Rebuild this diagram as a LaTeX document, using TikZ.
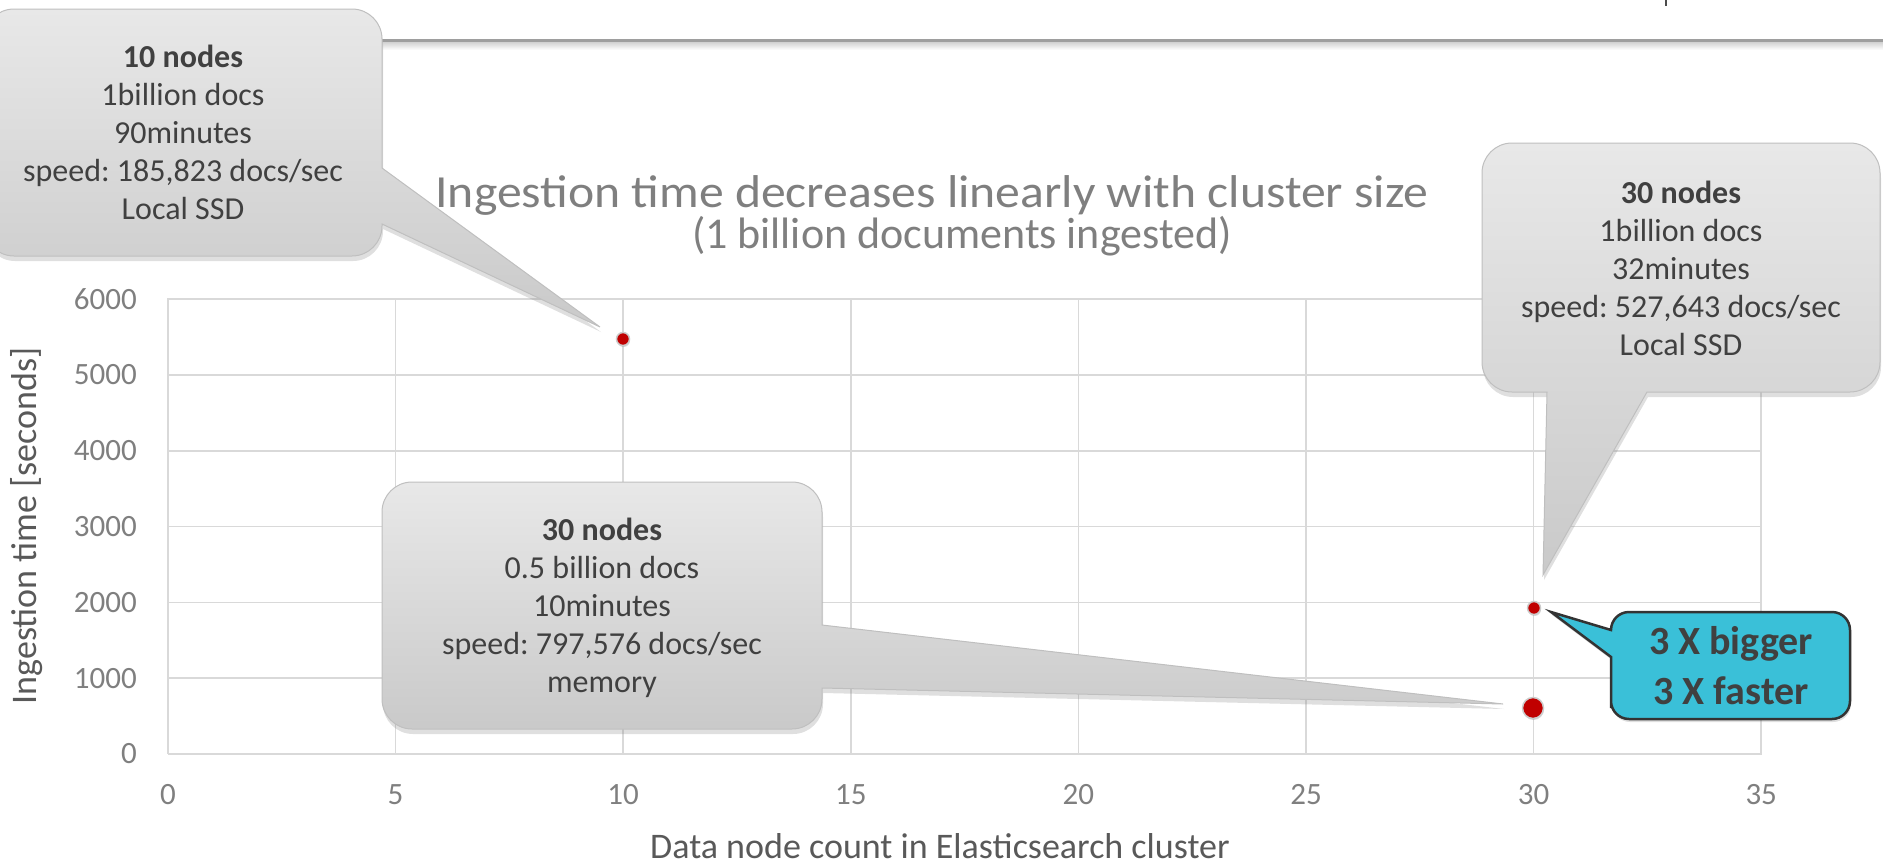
\documentclass[tikz,border=0pt]{standalone}
\usepackage{fontspec}
\setmainfont{Carlito}
\usetikzlibrary{shadows}
\definecolor{txtdark}{HTML}{404040}
\definecolor{txtgray}{HTML}{7F7F7F}
\definecolor{axgray}{HTML}{595959}
\definecolor{gridgray}{HTML}{D9D9D9}
\definecolor{dotred}{HTML}{C00000}
\definecolor{notecyan}{HTML}{3AC0D8}
\frenchspacing

\begin{document}
\begin{tikzpicture}[
  x=1pt, y=-1pt,
  font=\fontsize{32}{38}\selectfont,
  gridline/.style={draw=gridgray, line width=1.5pt},
  ticklabel/.style={text=txtgray, font=\fontsize{31}{36}\selectfont, inner sep=0pt},
  axislabel/.style={text=axgray, font=\fontsize{36}{42}\selectfont, inner sep=0pt},
  titletext/.style={text=txtgray, font=\fontsize{44}{44}\selectfont, inner sep=0pt},
  note/.style={draw=black!25, line width=1pt, top color=black!9, bottom color=black!21,
               drop shadow={opacity=0.25, shadow xshift=1pt, shadow yshift=-5pt}},
  notetext/.style={text=txtdark, align=center, inner sep=0pt},
  hilite/.style={draw=black!80, line width=2.5pt, fill=notecyan,
                 drop shadow={opacity=0.25, shadow xshift=1pt, shadow yshift=-3pt}},
  datadot/.style={circle, fill=dotred, draw=black!20, line width=1.5pt, inner sep=0pt,
                  drop shadow={opacity=0.3, shadow xshift=0.5pt, shadow yshift=-1.5pt}}
]
\useasboundingbox (0,0) rectangle (1883,865);

% plot grid
\foreach \v in {0,5,...,35}
  \draw[gridline] ({168+45.52*\v},298) -- ({168+45.52*\v},754);
\foreach \v in {0,1000,...,6000}
  \draw[gridline] (168,{754-0.0758*\v}) -- (1762,{754-0.0758*\v});

% tick labels
\foreach \v in {0,5,...,35}
  \node[ticklabel] (xt\v) at ({168+45.52*\v},795) {\v};
\foreach \v in {0,1000,...,6000}
  \node[ticklabel, anchor=east] (yt\v) at (137,{754-0.0758*\v}) {\v};

% axis titles and chart title
\node[axislabel, rotate=90] (ytitle) at (27,526) {Ingestion time [seconds]};
\node[axislabel] (xtitle) at (940,846) {Data node count in Elasticsearch cluster};
\node[titletext, anchor=base, font=\fontsize{46}{46}\selectfont, xscale=1.08] (title1) at (932,207) {Ingestion time decreases linearly with cluster size};
\node[titletext, anchor=base] (title2) at (962,248) {(1 billion documents ingested)};

% header rule
\shade[top color=black!18, bottom color=white] (380,42) rectangle (1883,50);
\draw[draw=black!38, line width=3pt] (380,40.5) -- (1883,40.5);
\draw[draw=black!70, line width=2pt] (1666,0) -- (1666,6);

% data points
\node[datadot, minimum size=13pt] (p10) at (623,339) {};
\node[datadot, minimum size=13pt] (p30) at (1534,608) {};
\node[datadot, minimum size=21pt] (p30mem) at (1533,708) {};

% callout tips
\coordinate (tipten) at (600,327);
\coordinate (tipssd) at (1543,575);
\coordinate (tipmem) at (1503,704);
\coordinate (tipgain) at (1551,612);

% callouts
\path[note] [rounded corners=30pt] (-16,132) -- (-16,9) -- (382,9) -- (382,100)
  [sharp corners] -- (382,168) -- (tipten) -- (382,224)
  [rounded corners=30pt] -- (382,256) -- (-16,256) -- cycle;
\path[note] [rounded corners=30pt] (1681,143) -- (1880,143) -- (1880,392) -- (1720,392)
  [sharp corners] -- (1647,392) -- (tipssd) -- (1547,392)
  [rounded corners=30pt] -- (1482,392) -- (1482,143) -- cycle;
\path[note] [rounded corners=30pt] (382,606) -- (382,482) -- (822,482) -- (822,560)
  [sharp corners] -- (822,625) -- (tipmem) -- (822,688)
  [rounded corners=30pt] -- (822,729) -- (382,729) -- cycle;
\path[hilite] [rounded corners=18pt] (1730,612) -- (1850,612) -- (1850,719) -- (1611,719) -- (1611,690)
  [sharp corners] -- (1611,657) -- (tipgain) -- (1611,630)
  [rounded corners=18pt] -- (1611,612) -- cycle;

\node[notetext] (ten) at (183,132) {\textbf{10 nodes}\\1billion docs\\90minutes\\speed: 185,823 docs/sec\\Local SSD};
\node[notetext] (thirty) at (1681,268) {\textbf{30 nodes}\\1billion docs\\32minutes\\speed: 527,643 docs/sec\\Local SSD};
\node[notetext] (thirtymem) at (602,608) {\textbf{30 nodes}\\0.5 billion docs\\10minutes\\speed: 797,576 docs/sec\\memory};
\node[notetext, font=\bfseries\fontsize{40}{50}\selectfont] (gain) at (1731,666) {3 X bigger\\3 X faster};
\end{tikzpicture}
\end{document}
